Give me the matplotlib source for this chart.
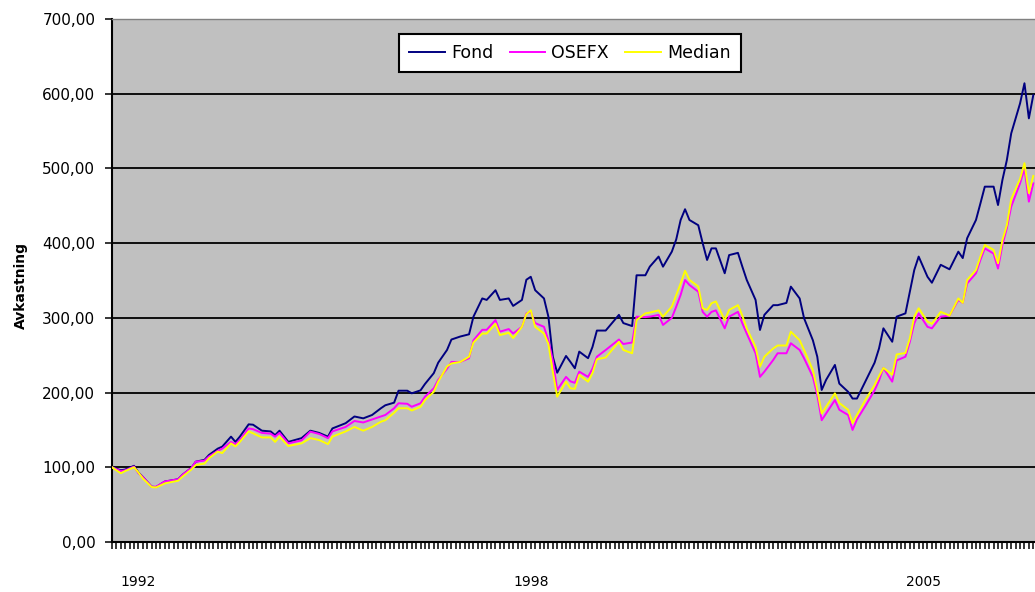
import matplotlib
matplotlib.use("Agg")
import matplotlib.pyplot as plt
from matplotlib.ticker import FuncFormatter, MultipleLocator, FixedLocator

# observation number along the category axis
period = [0, 2, 3, 5, 6, 7, 9, 10, 12, 15, 16, 18, 19, 21, 22, 24, 25, 27, 28, 29,
          31, 32, 34, 36, 37, 38, 40, 43, 45, 47, 49, 50, 53, 55, 57, 59,
          61, 62, 64, 65, 67, 68, 70, 71, 73, 74, 76, 77, 79, 81, 82, 84, 85, 87, 88,
          90, 91, 93, 94, 95, 96, 98, 99, 100, 101, 103, 104, 105, 106, 108, 109, 110,
          112, 115, 116, 118, 119, 121, 122,
          124, 125, 127, 128, 129, 130, 131, 133, 134, 135, 136, 137, 139, 140, 142,
          143, 144, 146, 147, 148, 150, 151, 153, 154, 156, 157, 159, 160, 161, 162,
          164, 165, 167, 168, 169, 171, 173, 174, 175, 177, 178,
          180, 181, 182, 183, 185, 186, 188, 190, 192, 193, 194, 196, 197, 198, 200,
          201, 202, 203, 204, 206, 207, 208, 209]

fond = [100, 96, 97, 102, 93, 87, 74, 73.5, 81, 84, 90, 99, 107.5, 110, 116.5, 125, 127.6, 141, 134, 141,
        157.5, 157, 149, 148, 143, 149, 134, 139, 149, 146, 141, 152, 159, 168, 165.5, 170,
        179, 183, 186.5, 202.5, 202.5, 199, 203, 211.5, 226, 240, 257, 271, 275, 278, 301.6, 326, 324, 337, 324,
        326, 316, 324, 351, 355, 337, 326, 301.6, 248, 226.6, 249, 241, 232.5, 254.8, 246, 261, 283,
        283, 304, 293, 289, 357, 357, 368.5,
        382, 368.5, 388.6, 405, 431, 445.4, 431, 424, 400, 377.5, 393, 393, 359.7, 384, 387,
        368.5, 350.7, 324, 283.8, 304, 317, 317, 320, 341.8, 326, 299.5, 270, 248, 203.5, 217,
        237, 212, 201, 192, 192, 216, 240, 259, 286, 268, 301.6,
        306, 335, 364, 382, 355, 347, 371, 365, 388.6, 380, 406.6, 431, 453, 475.6, 475.6,
        451, 484.6, 511, 547, 587, 614, 567, 598]

osefx = [100, 95, 96, 101, 92, 87, 74, 74, 81, 84, 90, 99, 107.5, 109, 114.5, 122, 125, 134, 131, 136.5,
         152, 151, 146, 145, 141, 146, 132, 136, 147.7, 144.6, 139, 148, 154, 162, 160, 164,
         168, 170, 179, 185.7, 185, 181, 185.7, 194.5, 205.7, 217, 232, 241, 241, 246, 270, 284, 284, 297, 281.5,
         285, 279, 288, 306, 308, 293, 288, 270, 243, 203.5, 221, 215, 213, 228, 221, 232, 248,
         257, 271, 265, 267, 301.6, 301, 301.6,
         304, 290.5, 300, 315, 330.7, 350.7, 344, 335, 308, 301.6, 308, 310, 286, 301.6, 308,
         292.7, 279, 252.6, 221, 228, 243.6, 252.6, 252.6, 266, 257, 246, 221, 196.8, 163, 172,
         190, 177, 170, 150, 164, 183, 203, 216, 233, 214.6, 243,
         248, 268, 292.7, 306, 288, 286, 301.6, 303, 324, 320, 346, 359.7, 377.5, 393, 386,
         366, 397.6, 420, 449, 480, 500, 455.5, 480]

median = [100, 92, 95, 100, 93, 85, 73.5, 73, 78.5, 82, 87.5, 97, 103, 105, 112, 121, 119, 132, 128, 134,
          148, 145.5, 140, 140, 134, 141, 128.5, 132, 139, 136.5, 131, 141, 148, 154, 149, 154,
          161, 163, 173, 179, 179, 176, 181, 190, 201, 214.6, 235, 239, 241, 248, 267, 279, 279, 292, 277,
          280, 273, 288, 305, 310, 288, 279, 265, 228, 194.5, 214.6, 205.7, 205, 223.6, 214.6, 226, 244.6,
          247, 268, 257, 252.6, 297, 306, 307,
          310, 301.6, 315, 330.7, 346, 363, 350.7, 342, 312.8, 310.6, 319.5, 322, 297, 310.6, 317,
          303, 286, 261, 234.7, 248, 259, 263, 263, 281.5, 270, 257, 230, 203.5, 172, 181,
          199, 186, 177, 159, 170, 191, 210, 222, 233, 224, 251,
          253, 272.7, 301.6, 312.8, 295, 292, 308, 303, 326, 320, 350.7, 364, 382, 397.6, 391,
          373, 404, 424, 459, 486, 507, 467, 490]

year_ticks = [6, 95, 184]
year_labels = ["1992", "1998", "2005"]

plt.rcParams["font.family"] = ["DejaVu Sans"]

fig = plt.figure(figsize=(10.35, 5.92), dpi=100)
# plot area runs past the right edge of the canvas
ax = fig.add_axes([112 / 1035, 50 / 592, 934.5 / 1035, 523 / 592])
ax.set_facecolor("#C0C0C0")

ax.plot(period, fond, color="#000080", lw=1.4, label="Fond", zorder=3)
ax.plot(period, osefx, color="#FF00FF", lw=1.4, label="OSEFX", zorder=4)
ax.plot(period, median, color="#FFFF00", lw=1.4, label="Median", zorder=5)

ax.set_xlim(0, 212)
ax.set_ylim(0, 700)

ax.yaxis.set_major_locator(MultipleLocator(100))
ax.yaxis.set_major_formatter(FuncFormatter(lambda v, _: f"{v:.2f}".replace(".", ",")))
ax.grid(axis="y", color="black", lw=1.3, zorder=1)
ax.set_axisbelow(True)

ax.xaxis.set_major_locator(FixedLocator(year_ticks))
ax.set_xticklabels(year_labels)
ax.xaxis.set_minor_locator(MultipleLocator(1))
ax.tick_params(axis="x", which="both", direction="out", length=5, width=1.1, color="black")
ax.tick_params(axis="x", which="major", pad=19, labelsize=10)
ax.tick_params(axis="y", direction="out", length=5, width=1.1, pad=7, labelsize=11)

for side in ("left", "bottom"):
    ax.spines[side].set_color("black")
    ax.spines[side].set_linewidth(1.5)
ax.spines["top"].set_color("#808080")
ax.spines["top"].set_linewidth(1.0)
ax.spines["right"].set_visible(False)

ax.set_ylabel("Avkastning", fontsize=10, fontweight="bold")
ax.yaxis.set_label_coords(-0.09, 0.49)

leg = ax.legend(loc="center", bbox_to_anchor=(570 / 1035, 1 - 53 / 592),
                bbox_transform=fig.transFigure, ncol=3, fontsize=12.5,
                frameon=True, fancybox=False, framealpha=1, edgecolor="black",
                handlelength=2.05, handletextpad=0.35, columnspacing=0.95,
                borderpad=0.6)
leg.get_frame().set_linewidth(1.5)
for line in leg.get_lines():
    line.set_linewidth(1.4)

fig.savefig("out.png", dpi=100)
